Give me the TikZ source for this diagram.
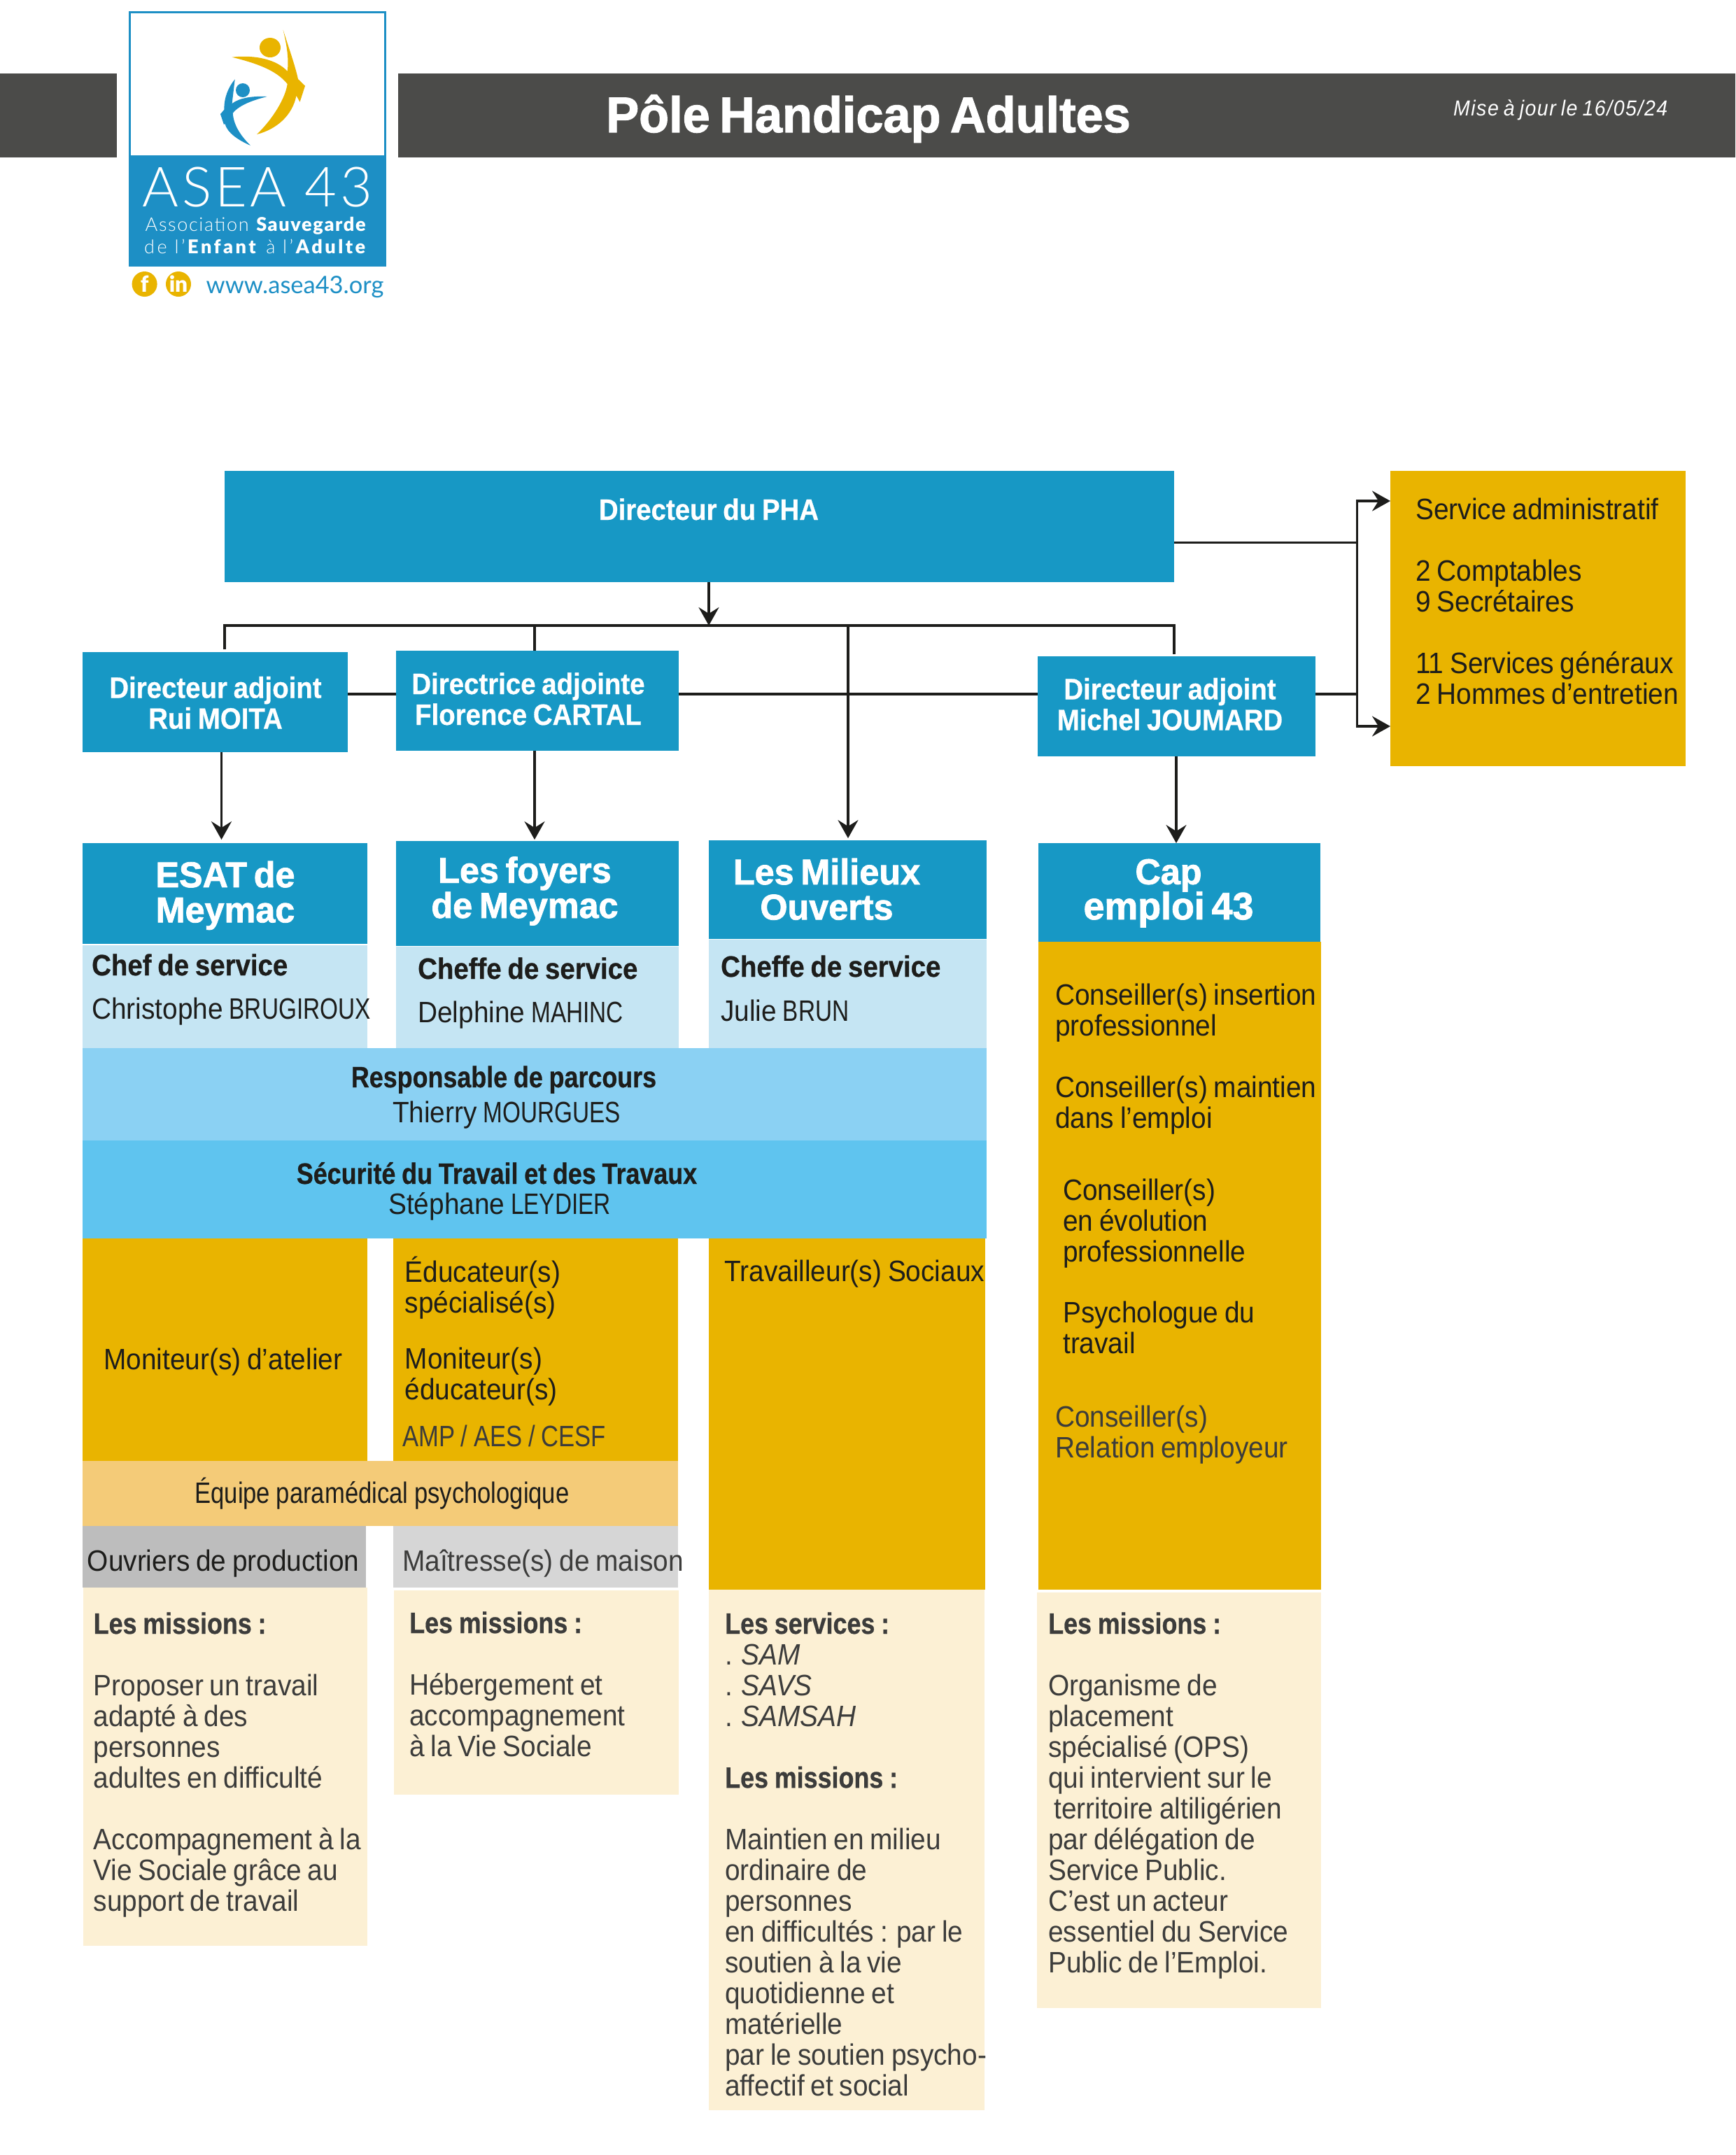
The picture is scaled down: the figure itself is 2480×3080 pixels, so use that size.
\documentclass[tikz,border=0pt]{standalone}
\usepackage{fontspec}
\usetikzlibrary{arrows.meta}
\setmainfont{Liberation Sans}[FakeStretch=0.92,BoldFeatures={FakeStretch=0.91,FakeBold=0.6}]
\newfontfamily\heavyfont{Liberation Sans}[UprightFont=* Bold,FakeStretch=0.98,FakeBold=1.6]
\newfontfamily\slimbold{Liberation Sans}[UprightFont=* Bold,FakeStretch=0.85,FakeBold=0.6]
\newfontfamily\slimfont{Liberation Sans}[FakeStretch=0.82]
\newfontfamily\capsfont{Liberation Sans}[FakeStretch=0.79]
\newfontfamily\logofont{Lato}[UprightFont=* Light,BoldFont=* Black]
\newfontfamily\webfont{Lato}
\newcommand{\capsn}[1]{{\capsfont #1}}
\newcommand{\lead}[1]{{\slimbold #1}}
\definecolor{headblue}{HTML}{1798C5}
\definecolor{logoblue}{HTML}{1D8FC5}
\definecolor{paleblue}{HTML}{C5E5F3}
\definecolor{bandone}{HTML}{8BD1F3}
\definecolor{bandtwo}{HTML}{5FC4EF}
\definecolor{gold}{HTML}{E9B400}
\definecolor{paragold}{HTML}{F4CB78}
\definecolor{cream}{HTML}{FCF0D4}
\definecolor{greyone}{HTML}{BDBDBD}
\definecolor{greytwo}{HTML}{D6D6D6}
\definecolor{banner}{HTML}{4B4B49}
\definecolor{ink}{HTML}{1D1D1B}
\definecolor{softink}{HTML}{3C3C3B}
\newcommand{\setsize}[1]{\fontsize{#1}{12.52}\selectfont\normalbaselineskip=12.52pt\lineskiplimit=-20pt\spaceskip=2.5pt\relax}
\newcommand{\blocknode}[6]{\node[block,fill=#6,minimum width={(#4-#2)*0.01cm},minimum height={(#5-#3)*0.01cm}] (#1) at ({(#2+#4)/2},{(#3+#5)/2}) {};}
\tikzset{
  block/.style={rectangle,inner sep=0,outer sep=0,draw=none},
  txt/.style={anchor=base west,xshift=-0.015cm,inner sep=0,text width=6cm,align=flush left,text=ink,font=\setsize{12}},
  softtxt/.style={txt,text=softink},
  ctr/.style={anchor=base,inner sep=0,text width=8cm,align=flush center,text=ink,font=\setsize{12}},
  whitectr/.style={ctr,text=white,font=\setsize{12}\bfseries},
  headctr/.style={ctr,text=white,font={\heavyfont\fontsize{14.6}{14.3}\selectfont\normalbaselineskip=14.3pt\lineskiplimit=-20pt\spaceskip=2.8pt\relax}},
  link/.style={draw=ink,line width=0.9pt,arrows={-},>={Stealth[length=2.6mm,width=2.9mm,inset=0.9mm]}},
  social/.style={circle,fill=gold,inner sep=0,minimum size=0.36cm,text=white,font=\logofont\bfseries\fontsize{9}{9}\selectfont},
}
\begin{document}
\begin{tikzpicture}[x=0.01cm,y=-0.01cm]
  \useasboundingbox (0,0) rectangle (2480,3080);
  % bandeau
  \blocknode{bandleft}{0}{105}{167}{225}{banner}
  \blocknode{bandright}{569}{105}{2480}{225}{banner}
  \node[ctr,text=white,font={\heavyfont\fontsize{20.4}{20}\selectfont\spaceskip=3.8pt\relax}] (title) at (1241,189) {Pôle Handicap Adultes};
  \node[anchor=base east,inner sep=0,text=white,font={\fontsize{8.8}{9}\selectfont\itshape\addfontfeature{LetterSpace=5}\spaceskip=2pt\relax}] (update) at (2384,165) {Mise à jour le 16/05/24};
  % logo
  \node[block,draw=logoblue,line width=0.8pt,minimum width=3.64cm,minimum height=3.62cm] (logoframe) at (368,198.5) {};
  \blocknode{logoband}{185}{222}{551}{381}{logoblue}
  \fill[gold] (386,68) ellipse (15 and 14);
  \fill[gold] (404.6,42.7) .. controls (416,78) and (422,95) .. (426,113) -- (436,122.7) -- (428.6,145.7) -- (423.5,136.7) .. controls (418,165) and (395,185) .. (367,192) .. controls (390,170) and (408,140) .. (410.7,120) .. controls (395,100) and (365,90) .. (331.6,81.7) .. controls (365,78) and (395,85) .. (410.7,101.7) .. controls (413,85) and (410,65) .. (404.6,42.7) -- cycle;
  \fill[logoblue] (347,129) circle (10);
  \fill[logoblue] (335.7,113.3) -- (331.6,148) .. controls (342,140) and (360,137) .. (381.6,138) .. controls (362,143) and (342,150) .. (332.7,161.7) .. controls (334,180) and (345,195) .. (358,208) .. controls (340,200) and (325,190) .. (321.4,176.7) -- (320,178) -- (315,163) -- (320.4,156.7) .. controls (320,140) and (326,125) .. (335.7,113.3) -- cycle;
  \node[anchor=base,inner sep=0,text=white,font=\logofont\fontsize{22.5}{23}\selectfont\addfontfeature{LetterSpace=6}] (asea) at (368,295) {ASEA 43};
  \node[anchor=base,inner sep=0,text=white,font=\logofont\fontsize{7.7}{8}\selectfont\addfontfeature{LetterSpace=6}] (assoc) at (366,330) {Association \textbf{Sauvegarde}};
  \node[anchor=base,inner sep=0,text=white,font=\logofont\fontsize{7.7}{8}\selectfont\addfontfeature{LetterSpace=13}] (enfant) at (366,362) {de l’\textbf{Enfant} à l’\textbf{Adulte}};
  \node[social] (facebook) at (206.6,406) {f};
  \node[social] (linkedin) at (255,406) {in};
  \node[anchor=base west,inner sep=0,text=logoblue,font=\webfont\fontsize{9.8}{11}\selectfont] (web) at (294,419) {www.asea43.org};
  % direction
  \blocknode{dirpha}{321}{672.5}{1678}{832}{headblue}
  \node[whitectr] (dirtext) at (1013,743) {Directeur du PHA};
  \blocknode{adminbox}{1987}{672.5}{2409}{1095}{gold}
  \node[txt] (admintext) at (2024,742.6) {Service administratif\\[0.44cm]2 Comptables\\9 Secrétaires\\[0.44cm]11 Services généraux\\2 Hommes d’entretien};
  \blocknode{adjmoita}{118}{931.5}{497}{1074.5}{headblue}
  \node[whitectr] (moitatext) at (308,997.5) {Directeur adjoint\\Rui MOITA};
  \blocknode{adjcartal}{566}{930}{970}{1073}{headblue}
  \node[whitectr] (cartaltext) at (755,992) {Directrice adjointe\\Florence CARTAL};
  \blocknode{adjjoumard}{1482.5}{938}{1880}{1081}{headblue}
  \node[whitectr] (joumardtext) at (1672,999.5) {Directeur adjoint\\Michel JOUMARD};
  % colonnes
  \blocknode{esat}{118}{1205}{525}{1349}{headblue}
  \node[headctr] (esattext) at (322,1268) {ESAT de\\Meymac};
  \blocknode{foyers}{566}{1202}{970}{1352}{headblue}
  \node[headctr] (foyerstext) at (750,1261.6) {Les foyers\\de Meymac};
  \blocknode{milieux}{1013}{1201}{1410}{1342}{headblue}
  \node[headctr] (milieuxtext) at (1181.5,1264) {Les Milieux\\Ouverts};
  \blocknode{cap}{1484}{1205}{1887}{1346}{headblue}
  \node[headctr] (captext) at (1670,1263.7) {Cap\\{\fontsize{15.6}{14.3}\selectfont emploi 43}};
  \blocknode{chefesat}{118}{1351}{525}{1498}{paleblue}
  \node[txt,font=\setsize{12}\bfseries] (chefesattitle) at (132,1394) {Chef de service};
  \node[txt] (chefesatname) at (132,1456) {Christophe \capsn{BRUGIROUX}};
  \blocknode{cheffoyers}{566}{1353}{970}{1498}{paleblue}
  \node[txt,font=\setsize{12}\bfseries] (cheffoyerstitle) at (598,1399) {Cheffe de service};
  \node[txt] (cheffoyersname) at (598,1461.6) {Delphine \capsn{MAHINC}};
  \blocknode{chefmilieux}{1013}{1343}{1410}{1498}{paleblue}
  \node[txt,font=\setsize{12}\bfseries] (chefmilieuxtitle) at (1031,1396) {Cheffe de service};
  \node[txt] (chefmilieuxname) at (1031,1459) {Julie \capsn{BRUN}};
  \blocknode{parcours}{118}{1498}{1410}{1629.5}{bandone}
  \node[ctr] (parcourstext) at (720,1554) {\lead{Responsable de parcours}};
  \node[ctr] (parcoursname) at (724,1604) {Thierry \capsn{MOURGUES}};
  \blocknode{securite}{118}{1629.5}{1410}{1770}{bandtwo}
  \node[ctr] (securitetext) at (710,1692) {\lead{Sécurité du Travail et des Travaux}};
  \node[ctr] (securitename) at (714,1735) {Stéphane \capsn{LEYDIER}};
  \blocknode{goldesat}{118}{1770}{525}{2088}{gold}
  \node[txt] (moniteur) at (149,1957) {Moniteur(s) d’atelier};
  \blocknode{goldfoyers}{562}{1770}{969}{2088}{gold}
  \node[txt] (educateur) at (579.5,1832) {Éducateur(s)\\spécialisé(s)};
  \node[txt] (moniteduc) at (579.5,1956) {Moniteur(s)\\éducateur(s)};
  \node[softtxt] (amp) at (576,2067) {{\slimfont AMP / AES / CESF}};
  \blocknode{goldmilieux}{1013}{1770}{1408}{2272}{gold}
  \node[txt] (travailleur) at (1036,1831) {Travailleur(s) Sociaux};
  \blocknode{goldcap}{1484}{1346}{1888}{2272}{gold}
  \node[txt] (insertion) at (1509,1436.5) {Conseiller(s) insertion\\professionnel\\[0.44cm]Conseiller(s) maintien\\dans l’emploi};
  \node[txt] (evolution) at (1520,1715) {Conseiller(s)\\en évolution\\professionnelle};
  \node[txt] (psycho) at (1520,1890) {Psychologue du\\travail};
  \node[softtxt] (relation) at (1509,2039.5) {Conseiller(s)\\Relation employeur};
  \blocknode{paramed}{118}{2088}{969}{2180.5}{paragold}
  \node[ctr] (paramedtext) at (546,2148) {{\slimfont Équipe paramédical psychologique}};
  \blocknode{ouvriers}{118}{2181}{523}{2269}{greyone}
  \node[txt] (ouvrierstext) at (125.6,2245) {Ouvriers de production};
  \blocknode{maitresse}{562}{2181}{969}{2269}{greytwo}
  \node[softtxt] (maitressetext) at (576,2245) {Maîtresse(s) de maison};
  % missions
  \blocknode{creamesat}{119}{2269}{525}{2781}{cream}
  \node[softtxt] (missionsesat) at (134.5,2335) {\lead{Les missions :}\\[0.44cm]Proposer un travail\\adapté à des\\personnes\\adultes en difficulté\\[0.44cm]Accompagnement à la\\Vie Sociale grâce au\\support de travail};
  \blocknode{creamfoyers}{563}{2273}{970}{2565}{cream}
  \node[softtxt] (missionsfoyers) at (586,2334) {\lead{Les missions :}\\[0.44cm]Hébergement et\\accompagnement\\à la Vie Sociale};
  \blocknode{creammilieux}{1013}{2272}{1407}{3016}{cream}
  \node[softtxt] (missionsmilieux) at (1037,2335) {\lead{Les services :}\\. \textit{SAM}\\. \textit{SAVS}\\. \textit{SAMSAH}\\[0.44cm]\lead{Les missions :}\\[0.44cm]Maintien en milieu\\ordinaire de\\personnes\\en difficultés : par le\\soutien à la vie\\quotidienne et\\matérielle\\par le soutien psycho-\\affectif et social};
  \blocknode{creamcap}{1482}{2276}{1888}{2870}{cream}
  \node[softtxt] (missionscap) at (1499,2335) {\lead{Les missions :}\\[0.44cm]Organisme de\\placement\\spécialisé (OPS)\\qui intervient sur le\\\hspace*{0.08cm}territoire altiligérien\\par délégation de\\Service Public.\\C’est un acteur\\essentiel du Service\\Public de l’Emploi.};
  % liaisons
  \coordinate (hub) at (1013,894);
  \coordinate (barleft) at (321,894);
  \coordinate (barright) at (1678,894);
  \coordinate (barcartal) at (764,894);
  \coordinate (barmilieux) at (1212,894);
  \coordinate (railtop) at (1939.5,775.5);
  \coordinate (railmid) at (1939.5,992);
  \coordinate (railup) at (1939.5,716);
  \coordinate (raildown) at (1939.5,1038);
  \coordinate (tipesat) at (316.5,1200);
  \coordinate (tipfoyers) at (764,1200);
  \coordinate (tipmilieux) at (1212,1198);
  \coordinate (tipcap) at (1681,1205);
  \draw[link,->] (dirpha.south -| hub) -- (hub);
  \draw[link] (barleft |- 0,928) -- (barleft) -- (barright) -- (barright |- 0,935);
  \draw[link] (barcartal) -- (adjcartal.north -| barcartal);
  \draw[link,->] (barmilieux) -- (tipmilieux);
  \draw[link,->] (adjmoita.south -| tipesat) -- (tipesat);
  \draw[link,->] (adjcartal.south -| tipfoyers) -- (tipfoyers);
  \draw[link,->] (adjjoumard.south -| tipcap) -- (tipcap);
  \draw[link] (adjmoita.east |- railmid) -- (adjcartal.west |- railmid);
  \draw[link] (adjcartal.east |- railmid) -- (adjjoumard.west |- railmid);
  \draw[link] (adjjoumard.east |- railmid) -- (railmid);
  \draw[link] (dirpha.east |- railtop) -- (railtop);
  \draw[link,<->] (adminbox.west |- railup) -- (railup) -- (raildown) -- (adminbox.west |- raildown);
\end{tikzpicture}
\end{document}
